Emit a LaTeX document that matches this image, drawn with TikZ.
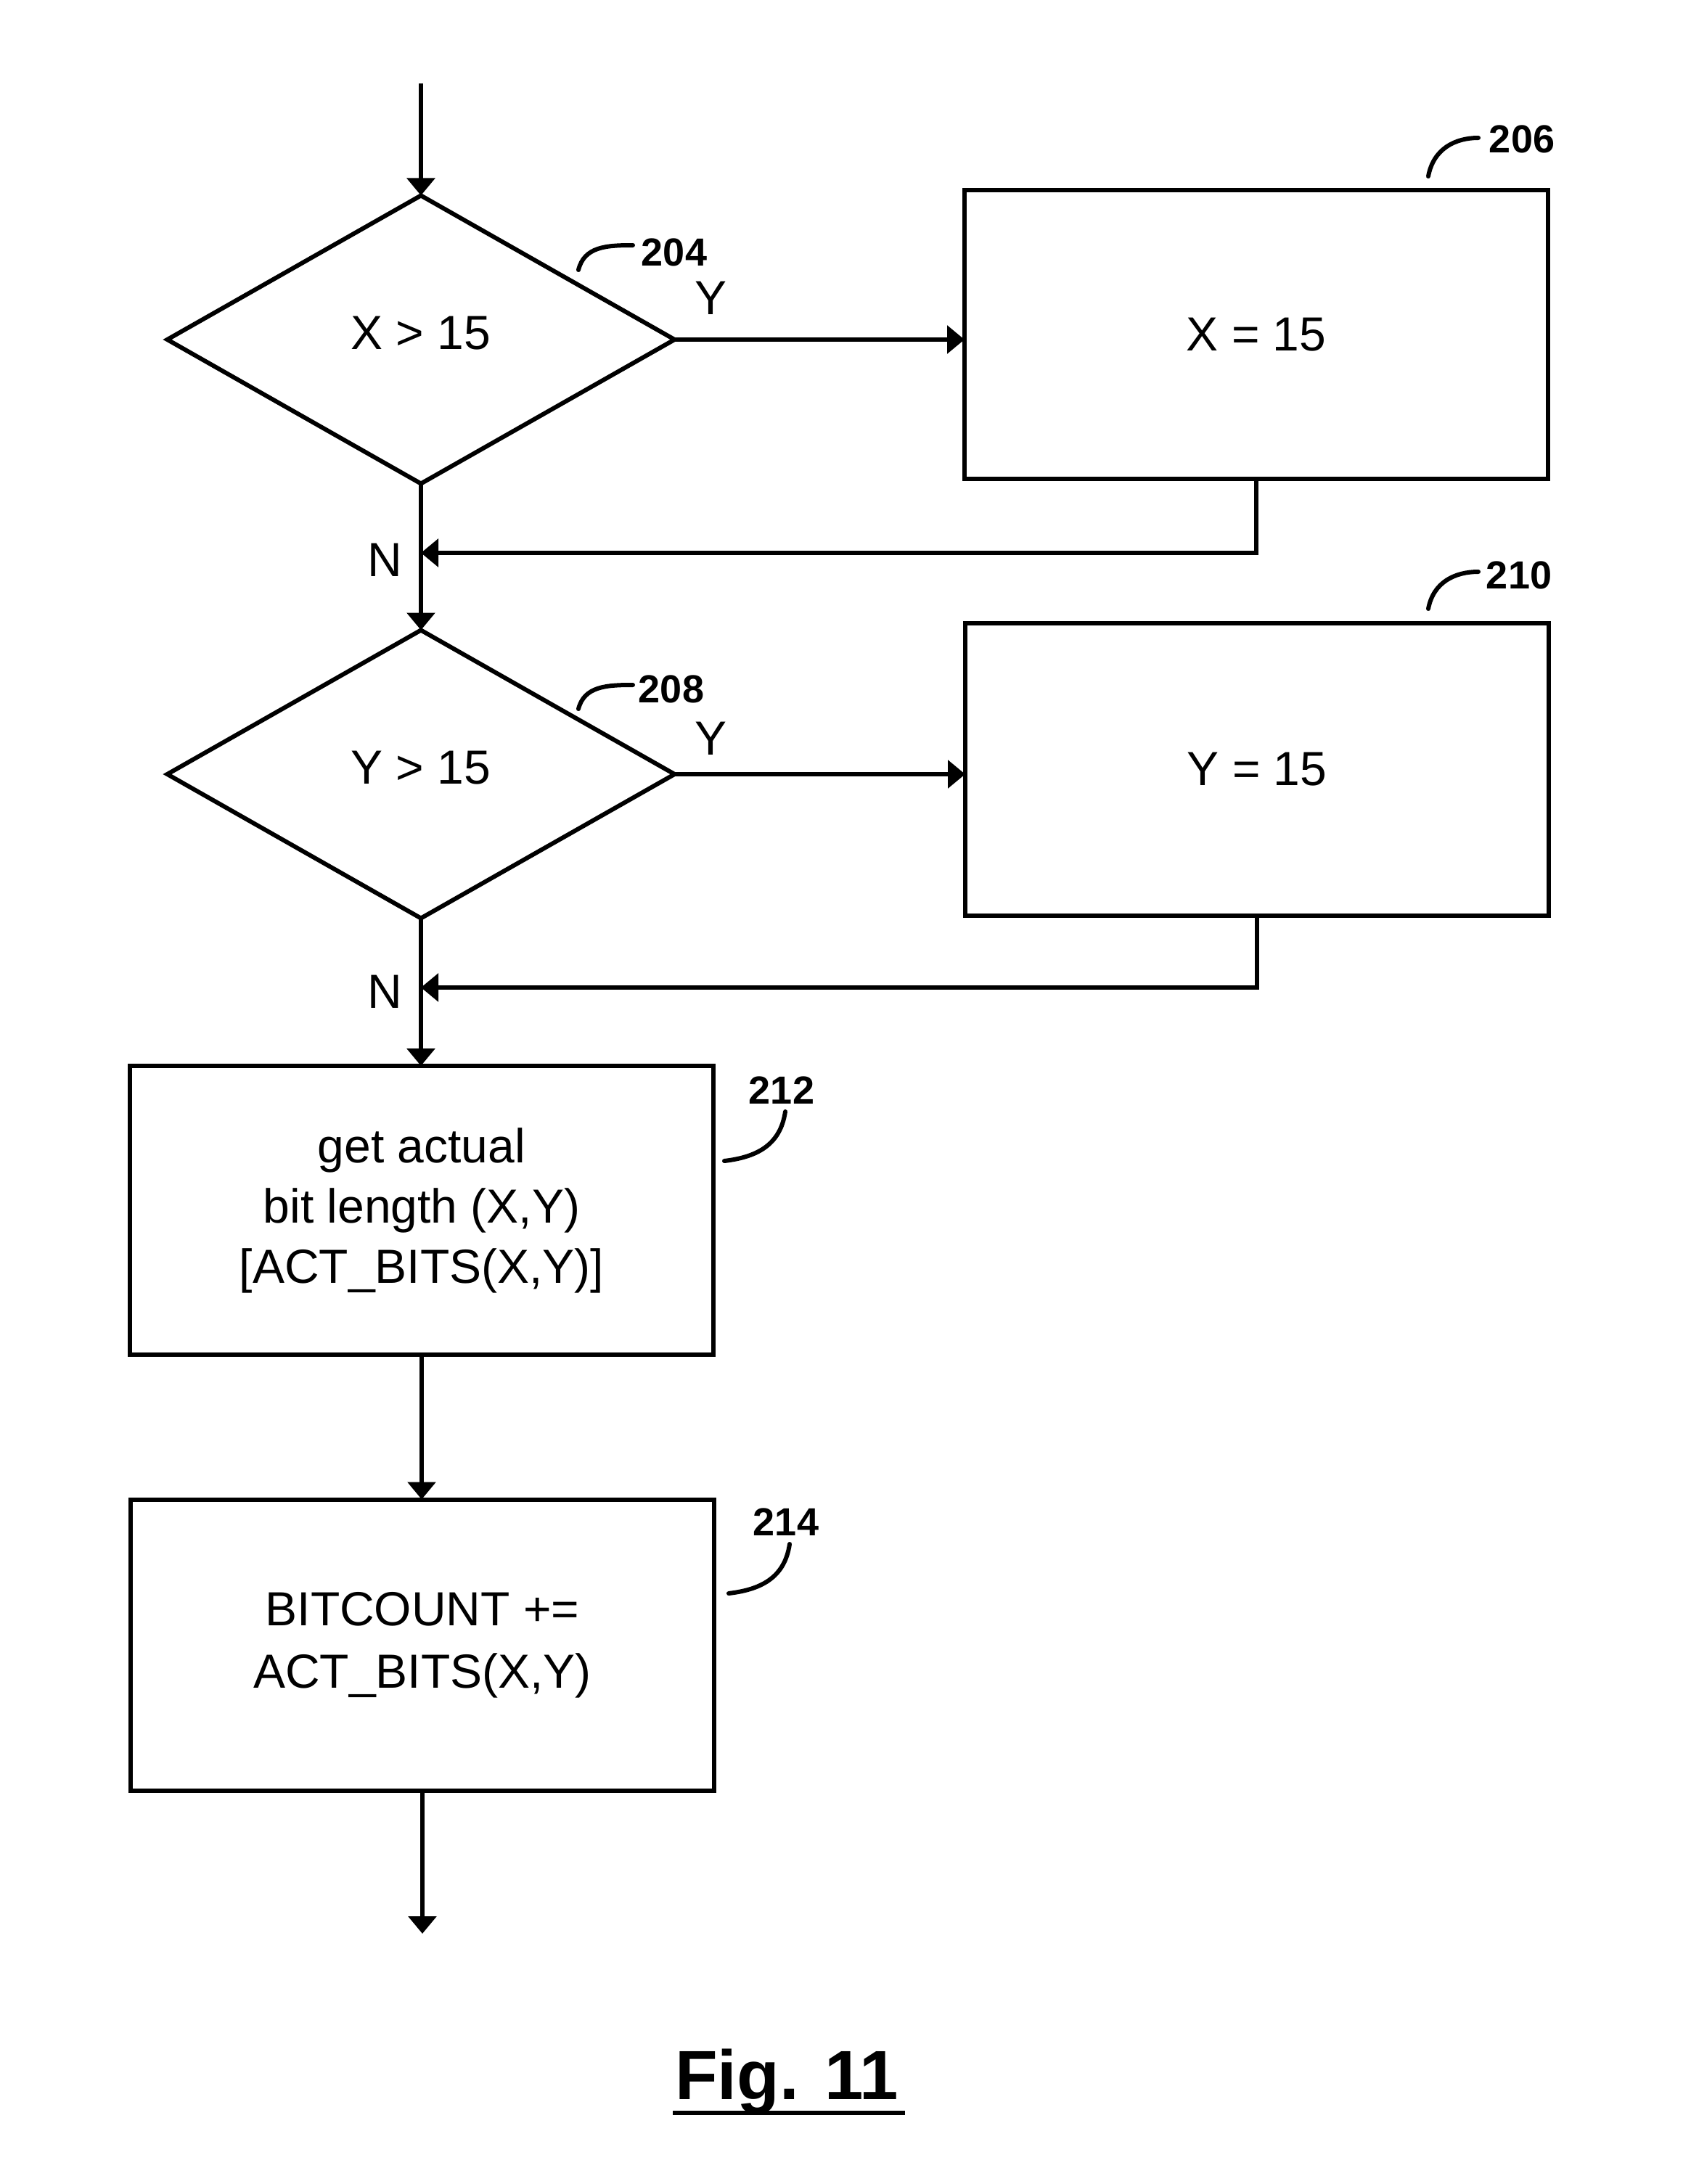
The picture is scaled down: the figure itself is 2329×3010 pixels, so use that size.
\documentclass[tikz,border=0pt]{standalone}
\usepackage{fontspec}
\setmainfont{Liberation Sans}
\usetikzlibrary{shapes.geometric,arrows.meta}
\begin{document}
\begin{tikzpicture}[x=1pt,y=-1pt,
  line width=6pt,
  every node/.style={inner sep=0pt,outer sep=0pt},
  txt/.style={font=\fontsize{66}{83}\selectfont,align=center},
  boxn/.style={draw,rectangle,minimum width=804pt,minimum height=398pt,txt},
  decn/.style={draw,diamond,minimum width=699pt,minimum height=397pt,txt},
  refl/.style={font=\fontsize{54}{60}\selectfont\bfseries},
  arr/.style={-{Triangle[width=38pt,length=24pt]}},
  lead/.style={line width=6pt,line cap=round}]
\useasboundingbox (0,0) rectangle (2329,3010);
% nodes
\node[decn] (d1) at (580,468) {\raisebox{18pt}{X > 15}};
\node[boxn] (b1) at (1731,461) {X = 15};
\node[decn] (d2) at (580,1067) {\raisebox{18pt}{Y > 15}};
\node[boxn,minimum height=403pt] (b2) at (1732,1060) {Y = 15};
\node[boxn,font=\fontsize{66}{83}\selectfont] (b3) at (581,1668) {get actual\\bit length (X,Y)\\\relax{}[ACT\_BITS(X,Y)]};
\node[boxn,minimum height=401pt,font=\fontsize{66}{86}\selectfont] (b4) at (582,2267) {BITCOUNT +=\\ACT\_BITS(X,Y)};
\coordinate (top) at (580,115);
\coordinate (j1) at (580,762);
\coordinate (j2) at (580,1361);
\coordinate (bot) at (582,2665);
% connectors
\draw[arr] (top) -- (d1.north);
\draw[arr] (d1.east) -- (d1.east -| b1.west);
\draw (d1.south) -- (j1);
\draw[arr] (b1.south) |- (j1);
\draw[arr] (j1) -- (d2.north);
\draw[arr] (d2.east) -- (d2.east -| b2.west);
\draw (d2.south) -- (j2);
\draw[arr] (b2.south) |- (j2);
\draw[arr] (j2) -- (j2 |- b3.north);
\draw[arr] (b3.south) -- (b3.south |- b4.north);
\draw[arr] (b4.south) -- (bot);
% Y / N labels
\node[txt] (y1) at (979,411) {Y};
\node[txt] (y2) at (979,1018) {Y};
\node[txt] (n1) at (530,772) {N};
\node[txt] (n2) at (530,1367) {N};
% reference labels and leaders
\node[refl] (r204) at (929,348) {204};
\draw[lead] (797,372) .. controls (805,340) and (835,338) .. (872,338);
\node[refl] (r206) at (2097,192) {206};
\draw[lead] (1968,243) .. controls (1975,205) and (2005,190) .. (2037,190);
\node[refl] (r208) at (925,950) {208};
\draw[lead] (797,977) .. controls (805,946) and (835,944) .. (872,944);
\node[refl] (r210) at (2093,793) {210};
\draw[lead] (1968,839) .. controls (1975,802) and (2005,788) .. (2037,788);
\node[refl] (r212) at (1077,1503) {212};
\draw[lead] (1082,1532) .. controls (1075,1580) and (1040,1595) .. (998,1600);
\node[refl] (r214) at (1083,2098) {214};
\draw[lead] (1088,2128) .. controls (1081,2176) and (1046,2191) .. (1004,2196);
% figure caption
\node[font=\fontsize{96}{100}\selectfont\bfseries,anchor=base] (fig) at (1084,2893) {Fig. 11};
\draw (927,2912) -- (1247,2912);
\end{tikzpicture}
\end{document}
